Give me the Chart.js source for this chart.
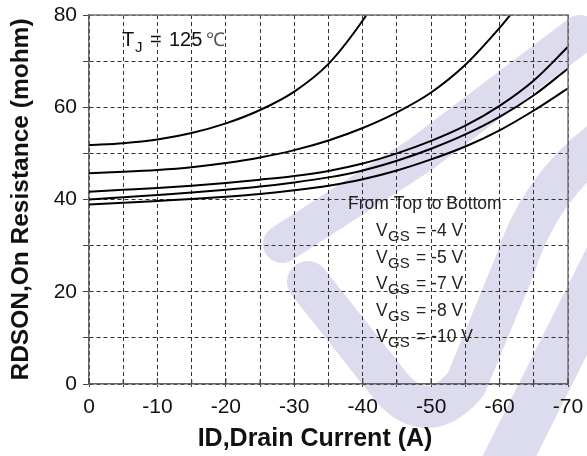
<!DOCTYPE html>
<html>
<head>
<meta charset="utf-8">
<script src="https://cdn.jsdelivr.net/npm/chart.js@4/dist/chart.umd.min.js"></script>
<style>
  html, body { margin: 0; padding: 0; background: #fff; }
  #wrap { width: 587px; height: 456px; }
</style>
</head>
<body>
<div id="wrap"><canvas id="chart" width="587" height="456"></canvas></div>
<script>
// drain current (A), shared by the flatter curves
const current = [0, -5, -10, -15, -20, -25, -30, -35, -40, -45, -50, -55, -60, -65, -70];
// the two steep curves leave the top of the plot early
const currentVgs4 = [0, -5, -10, -15, -20, -25, -30, -35, -40, -42];
const currentVgs5 = [0, -5, -10, -15, -20, -25, -30, -35, -40, -45, -50, -55, -60, -62];

// RDSON (mohm)
const rdsVgs4 = [51.8, 52.2, 53.0, 54.4, 56.5, 59.4, 63.4, 69.4, 78.8, 83.5];
const rdsVgs5 = [45.7, 46.0, 46.4, 47.0, 47.9, 49.1, 50.7, 52.8, 55.5, 58.9, 63.2, 69.2, 77.2, 80.8];
const rdsVgs7 = [41.7, 42.1, 42.5, 43.0, 43.6, 44.3, 45.1, 46.2, 47.8, 50.0, 52.7, 56.0, 60.3, 65.8, 73.1];
const rdsVgs8 = [40.0, 40.5, 41.0, 41.5, 42.1, 42.8, 43.7, 44.8, 46.3, 48.4, 51.0, 54.1, 57.9, 62.6, 68.4];
const rdsVgs10 = [38.9, 39.3, 39.7, 40.1, 40.6, 41.2, 42.0, 43.0, 44.4, 46.3, 48.7, 51.5, 55.0, 59.3, 64.1];

const legendLines = ['-4 V', '-5 V', '-7 V', '-8 V', '-10 V'];

const FONT = '"Liberation Sans", Arial, sans-serif';

const pts = (xs, ys) => xs.map((x, i) => ({ x: x, y: ys[i] }));

const curve = (xs, ys) => ({
  data: pts(xs, ys),
  borderColor: '#000',
  borderWidth: 2,
  pointRadius: 0,
  fill: false,
  cubicInterpolationMode: 'monotone'
});

// faint logo behind the plot
const watermark = {
  id: 'watermark',
  beforeDraw(chart) {
    const ctx = chart.ctx;
    ctx.save();
    ctx.strokeStyle = '#dcdcee';
    ctx.lineCap = 'round';
    ctx.lineJoin = 'round';
    ctx.lineWidth = 38;
    ctx.beginPath();
    ctx.moveTo(282, 244);
    ctx.lineTo(420, 155);
    ctx.lineTo(580, 34);
    ctx.stroke();
    ctx.lineWidth = 42;
    ctx.beginPath();
    ctx.moveTo(308, 282);
    ctx.lineTo(392, 388);
    ctx.quadraticCurveTo(428, 428, 466, 384);
    ctx.lineTo(515, 265);
    ctx.quadraticCurveTo(540, 185, 610, 135);
    ctx.stroke();
    ctx.lineWidth = 48;
    ctx.beginPath();
    ctx.moveTo(615, 245);
    ctx.lineTo(500, 475);
    ctx.stroke();
    ctx.restore();
  }
};

// top/right frame, inner x ticks, x title and the text notes
const notes = {
  id: 'notes',
  afterDraw(chart) {
    const ctx = chart.ctx;
    const a = chart.chartArea;
    const xs = chart.scales.x;
    ctx.save();
    ctx.strokeStyle = '#777';
    ctx.lineWidth = 1.5;
    ctx.beginPath();
    ctx.moveTo(a.left, a.top);
    ctx.lineTo(a.right, a.top);
    ctx.lineTo(a.right, a.bottom);
    ctx.stroke();

    ctx.strokeStyle = '#444';
    ctx.lineWidth = 1.2;
    xs.ticks.forEach(t => {
      const px = xs.getPixelForValue(t.value);
      ctx.beginPath();
      ctx.moveTo(px, a.bottom);
      ctx.lineTo(px, a.bottom - (t.value % 10 === 0 ? 6 : 4));
      ctx.stroke();
    });

    ctx.fillStyle = '#111';
    ctx.textAlign = 'center';
    ctx.textBaseline = 'middle';
    ctx.font = 'bold 25px ' + FONT;
    ctx.fillText('ID,Drain Current (A)', 315, 439);

    ctx.textAlign = 'left';
    ctx.textBaseline = 'alphabetic';
    ctx.font = '20px ' + FONT;
    ctx.fillText('T', 122, 46);
    ctx.font = '15px ' + FONT;
    ctx.fillText('J', 135, 52);
    ctx.font = '20px ' + FONT;
    ctx.fillText('=', 150, 46);
    ctx.fillText('125', 169, 46);
    ctx.fillStyle = '#555';
    ctx.font = '19px ' + FONT;
    ctx.fillText('\u2103', 206, 46);

    ctx.fillStyle = '#222';
    ctx.font = '17.5px ' + FONT;
    ctx.fillText('From Top to Bottom', 348, 209);
    legendLines.forEach((v, i) => {
      const y = 236 + i * 26.5;
      ctx.font = '17.5px ' + FONT;
      ctx.fillText('V', 376, y);
      ctx.font = '15px ' + FONT;
      ctx.fillText('GS', 388, y + 5);
      ctx.font = '17.5px ' + FONT;
      ctx.fillText('= ' + v, 416, y);
    });
    ctx.restore();
  }
};

const ctx = document.getElementById('chart').getContext('2d');
new Chart(ctx, {
  type: 'line',
  data: {
    datasets: [
      curve(currentVgs4, rdsVgs4),
      curve(currentVgs5, rdsVgs5),
      curve(current, rdsVgs7),
      curve(current, rdsVgs8),
      curve(current, rdsVgs10)
    ]
  },
  options: {
    responsive: false,
    animation: false,
    layout: { padding: { top: 15, right: 19, left: 0, bottom: 0 } },
    plugins: { legend: { display: false }, tooltip: { enabled: false } },
    scales: {
      x: {
        type: 'linear',
        min: -70,
        max: 0,
        reverse: true,
        afterFit: s => { s.height = 72; s.paddingLeft = 0; s.paddingRight = 0; },
        border: { display: true, color: '#666', width: 1.5, dash: [4, 3] },
        grid: {
          color: '#333',
          lineWidth: 1,
          tickLength: 3,
          tickColor: '#444',
          tickBorderDash: []
        },
        ticks: {
          stepSize: 5,
          autoSkip: false,
          maxRotation: 0,
          padding: 8,
          color: '#111',
          font: { family: FONT, size: 21 },
          callback: v => (v % 10 === 0 ? String(v) : '')
        },
        title: { display: false }
      },
      y: {
        min: 0,
        max: 80,
        afterFit: s => { s.width = 89; s.paddingTop = 0; s.paddingBottom = 0; },
        border: { display: true, color: '#666', width: 1.5, dash: [4, 3] },
        grid: {
          color: '#333',
          lineWidth: 1,
          tickLength: 6,
          tickColor: '#444',
          tickBorderDash: []
        },
        ticks: {
          stepSize: 10,
          padding: 6,
          color: '#111',
          font: { family: FONT, size: 21 },
          callback: v => (v % 20 === 0 ? String(v) : '')
        },
        title: {
          display: true,
          text: 'RDSON,On Resistance (mohm)',
          color: '#111',
          padding: { top: 7, bottom: 0 },
          font: { family: FONT, size: 24.5, weight: 'bold' }
        }
      }
    }
  },
  plugins: [watermark, notes]
});
</script>
</body>
</html>
